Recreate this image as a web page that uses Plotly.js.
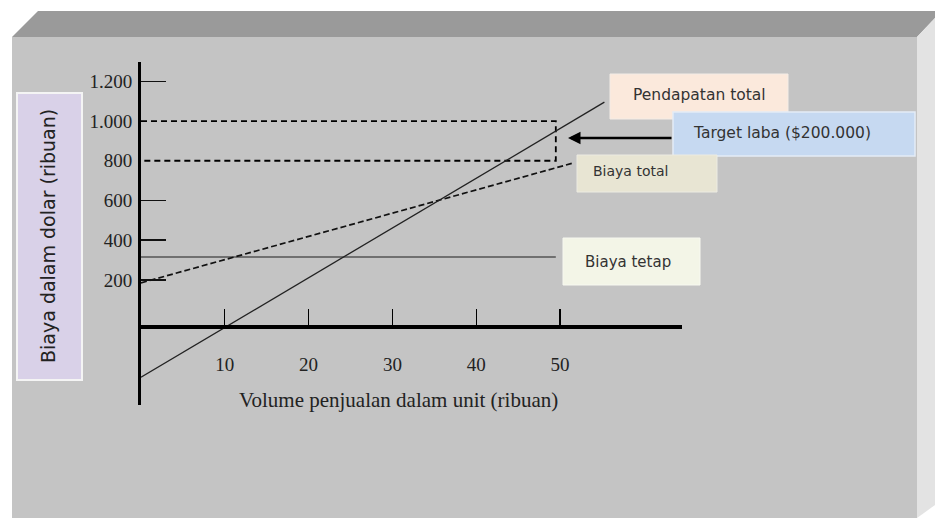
<!DOCTYPE html>
<html>
<head>
<meta charset="utf-8">
<script src="https://cdn.plot.ly/plotly-3.0.1.min.js"></script>
<style>
  html, body { margin: 0; padding: 0; background: #ffffff; }
  #chart { width: 935px; height: 518px; }
</style>
</head>
<body>
<div id="chart"></div>
<script>
// ---- Data (x in thousand units, y in thousand dollars) ----
const revenueX = [0, 55.3];
const totalRevenue = [-290, 1095];
const costX = [0, 51.7];
const totalCost = [185, 790];
const fixedX = [0, 49.5];
const fixedCost = [315, 315];
const targetX = [0, 49.5, 49.5, 0];
const targetY = [1000, 1000, 800, 800];

const xTickVals = [10, 20, 30, 40, 50];
const xTickText = ['10', '20', '30', '40', '50'];
const yTickVals = [200, 400, 600, 800, 1000, 1200];
const yTickText = ['200', '400', '600', '800', '1.000', '1.200'];
const yMarkVals = [200, 400, 600, 1200];

const labelRevenue = 'Pendapatan total';
const labelTarget = 'Target laba ($200.000)';
const labelTotalCost = 'Biaya total';
const labelFixedCost = 'Biaya tetap';
const xTitle = 'Volume penjualan dalam unit (ribuan)';
const yTitle = 'Biaya dalam dolar (ribuan)';

// ---- Layout geometry (pixels) ----
const W = 935, H = 518;
const L = 141, R = 682, T = 62, B = 405;
const PW = R - L, PH = B - T;
const px = v => (v - L) / PW;
const py = v => (B - v) / PH;

const serif = 'Liberation Serif, Times New Roman, serif';
const sans = 'DejaVu Sans, Verdana, sans-serif';

const traces = [
  { x: fixedX, y: fixedCost, mode: 'lines', line: { color: '#555555', width: 1.6 }, hoverinfo: 'skip' },
  { x: targetX, y: targetY, mode: 'lines', line: { color: '#000000', width: 1.8, dash: '6px,4px' }, hoverinfo: 'skip' },
  { x: costX, y: totalCost, mode: 'lines', line: { color: '#111111', width: 1.7, dash: '6px,3px' }, hoverinfo: 'skip' },
  { x: revenueX, y: totalRevenue, mode: 'lines', line: { color: '#222222', width: 1.3 }, hoverinfo: 'skip' },
  { x: [0], y: [0], yaxis: 'y2', mode: 'markers', marker: { opacity: 0 }, hoverinfo: 'skip' }
];

function rect(x0, y0, x1, y1, fill, lineColor, lineWidth, layer) {
  return { type: 'rect', xref: 'paper', yref: 'paper', x0: px(x0), x1: px(x1), y0: py(y1), y1: py(y0),
           fillcolor: fill, line: { color: lineColor || fill, width: lineWidth || 0 }, layer: layer || 'above' };
}
function poly(points, fill) {
  const d = points.map((p, i) => (i ? 'L ' : 'M ') + px(p[0]) + ' ' + py(p[1])).join(' ') + ' Z';
  return { type: 'path', xref: 'paper', yref: 'paper', path: d, fillcolor: fill, line: { width: 0 }, layer: 'below' };
}

const shapes = [
  // 3D frame
  rect(12, 37, 917, 518, '#c4c4c4', '#c4c4c4', 0, 'below'),
  poly([[38, 11], [935, 11], [935, 18], [917, 37], [12, 37]], '#9a9a9a'),
  poly([[917, 37], [935, 18], [935, 505], [917, 518]], '#e3e3e3'),
  // y title box
  rect(17, 93, 82, 380, '#d9d1e8', '#f4f4f4', 2, 'below'),
  // label boxes
  rect(610, 74, 788, 119, '#fbe9dc', '#f3ece6', 1),
  rect(673, 112, 915, 156, '#c6d9f1', '#e4ecf6', 1.5),
  rect(577, 155, 717, 192, '#e8e5d3', '#ecebe2', 1),
  rect(563, 238, 700, 285, '#f3f5e7', '#f7f8f0', 1)
];

function text(t, x, y, font, extra) {
  return Object.assign({ text: t, xref: 'paper', yref: 'paper', x: px(x), y: py(y),
    xanchor: 'center', yanchor: 'middle', showarrow: false, font: font }, extra || {});
}

const annotations = [
  text(labelRevenue, 699, 95, { family: sans, size: 15.5, color: '#333333' }),
  text(labelTarget, 782, 133, { family: sans, size: 15.5, color: '#333333' }),
  text(labelTotalCost, 630, 171, { family: sans, size: 14, color: '#333333' }),
  text(labelFixedCost, 628, 262, { family: sans, size: 15, color: '#333333' }),
  text(xTitle, 398, 400, { family: serif, size: 21, color: '#222222' }),
  text(yTitle, 48, 236, { family: sans, size: 19, color: '#222222' }, { textangle: -90 }),
  { text: '', xref: 'paper', yref: 'paper', x: px(568), y: py(138), ax: 105, ay: 0,
    showarrow: true, arrowhead: 2, arrowsize: 1, arrowwidth: 2.5, arrowcolor: '#000000' }
];

const layout = {
  width: W, height: H,
  margin: { l: L, r: W - R, t: T, b: H - B, pad: 0 },
  paper_bgcolor: '#ffffff',
  plot_bgcolor: 'rgba(0,0,0,0)',
  showlegend: false,
  xaxis: {
    range: [0, PW / 8.38], anchor: 'free', position: (B - 326) / PH, side: 'bottom',
    showline: true, linecolor: '#000000', linewidth: 3.5,
    ticks: 'inside', ticklen: 16, tickwidth: 1.3, tickcolor: '#000000',
    tickvals: xTickVals, ticktext: xTickText,
    tickfont: { family: serif, size: 19, color: '#222222' }, ticklabelstandoff: 20,
    showgrid: false, zeroline: false, fixedrange: true
  },
  yaxis: {
    range: [-430, 1297.3],
    showline: true, linecolor: '#000000', linewidth: 3,
    ticks: '', tickvals: yTickVals, ticktext: yTickText,
    tickfont: { family: serif, size: 19, color: '#222222' }, ticklabelstandoff: 2,
    showgrid: false, zeroline: false, fixedrange: true
  },
  yaxis2: {
    range: [-430, 1297.3], overlaying: 'y', side: 'left',
    ticks: 'inside', ticklen: 25, tickwidth: 1.4, tickcolor: '#111111',
    tickvals: yMarkVals, showticklabels: false,
    showline: false, showgrid: false, zeroline: false, fixedrange: true
  },
  shapes: shapes,
  annotations: annotations
};

Plotly.newPlot('chart', traces, layout, { staticPlot: true, displayModeBar: false });
</script>
</body>
</html>
